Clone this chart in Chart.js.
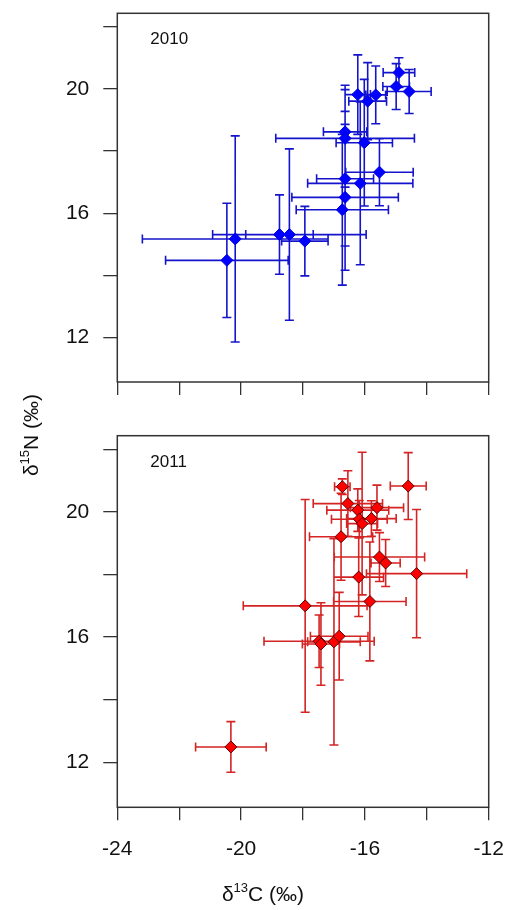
<!DOCTYPE html>
<html>
<head>
<meta charset="utf-8">
<script src="https://cdn.jsdelivr.net/npm/chart.js@4.4.1/dist/chart.umd.min.js"></script>
<style>
  body { margin: 0; background: #fff; width: 510px; height: 910px; position: relative; overflow: hidden;
         font-family: 'Liberation Sans', Arial, sans-serif; color: #111; }
  .panel { position: absolute; left: 0; width: 510px; }
  #topPanel { top: 0; height: 400px; }
  #bottomPanel { top: 420px; height: 490px; }
  .sup { font-size: 13px; position: relative; top: -9px; }
  #yTitle { position: absolute; left: -69px; top: 423px; width: 200px; height: 24px; line-height: 24px;
            font-size: 21px; text-align: center; transform: rotate(-90deg); }
  #xTitle { position: absolute; left: 163px; top: 882px; width: 200px; height: 24px; line-height: 24px;
            font-size: 21px; text-align: center; }
</style>
</head>
<body>
<div class="panel" id="topPanel"><canvas id="chart2010"></canvas></div>
<div class="panel" id="bottomPanel"><canvas id="chart2011"></canvas></div>
<div id="yTitle">δ<span class="sup">15</span>N (‰)</div>
<div id="xTitle">δ<span class="sup">13</span>C (‰)</div>
<script>
// axis ticks
const xTicks = [-24, -22, -20, -18, -16, -14, -12];
const xLabels = [-24, -20, -16, -12];
const yTicks = [12, 14, 16, 18, 20, 22];
const yLabels = [12, 16, 20];

// 2010 - d13C, d15N and their error bars
const c2010 = [-14.90, -14.99, -14.57, -16.23, -15.65, -15.91, -16.64, -16.64, -16.02, -15.53,
               -16.64, -16.15, -16.64, -16.73, -18.76, -18.44, -17.94, -20.19, -20.46];
const c2010Err = [0.51, 0.43, 0.71, 0.41, 0.32, 0.61, 0.70, 2.24, 0.91, 1.09,
                  0.92, 1.70, 1.72, 1.49, 1.09, 2.48, 0.75, 3.00, 1.98];
const n2010 = [20.53, 20.08, 19.92, 19.82, 19.81, 19.61, 18.62, 18.41, 18.27, 17.32,
               17.11, 16.96, 16.51, 16.11, 15.31, 15.31, 15.10, 15.17, 14.48];
const n2010Err = [0.48, 0.74, 0.71, 1.28, 0.93, 1.24, 1.50, 1.57, 2.04, 1.08,
                  2.17, 2.62, 2.35, 2.43, 1.28, 2.76, 1.12, 3.32, 1.84];

// 2011
const c2011 = [-16.73, -14.60, -16.55, -16.23, -15.61, -16.18, -16.09, -15.79, -16.77, -15.53,
               -15.33, -14.33, -16.20, -15.84, -17.93, -17.48, -17.42, -17.00, -16.83, -20.33];
const c2011Err = [0.25, 0.58, 1.12, 1.00, 0.86, 0.90, 0.50, 0.80, 1.02, 1.46,
                  0.47, 1.62, 0.80, 1.17, 2.00, 1.78, 0.60, 0.85, 0.93, 1.14];
const n2011 = [20.81, 20.83, 20.27, 20.06, 20.14, 19.77, 19.63, 19.79, 19.21, 18.56,
               18.37, 18.03, 17.92, 17.14, 17.00, 15.87, 15.78, 15.85, 16.03, 12.49];
const n2011Err = [0.25, 1.07, 1.05, 0.68, 0.72, 0.60, 2.28, 0.57, 1.39, 0.78,
                  0.75, 2.05, 1.26, 1.90, 3.40, 0.84, 1.32, 3.30, 1.40, 0.81];

const axisColor = '#333';

// error bars under the points, box and year label on top
const errorBars = {
    id: 'errorBars',
    beforeDatasetsDraw(chart) {
        const ctx = chart.ctx;
        const xs = chart.scales.x, ys = chart.scales.y;
        const cap = 4.5;
        chart.data.datasets.forEach(ds => {
            ctx.save();
            ctx.strokeStyle = ds.barColor;
            ctx.lineWidth = 1.6;
            ctx.beginPath();
            ds.data.forEach(p => {
                const px = xs.getPixelForValue(p.x);
                const py = ys.getPixelForValue(p.y);
                const x0 = xs.getPixelForValue(p.x - p.xErr);
                const x1 = xs.getPixelForValue(p.x + p.xErr);
                const y0 = ys.getPixelForValue(p.y - p.yErr);
                const y1 = ys.getPixelForValue(p.y + p.yErr);
                ctx.moveTo(x0, py); ctx.lineTo(x1, py);
                ctx.moveTo(x0, py - cap); ctx.lineTo(x0, py + cap);
                ctx.moveTo(x1, py - cap); ctx.lineTo(x1, py + cap);
                ctx.moveTo(px, y0); ctx.lineTo(px, y1);
                ctx.moveTo(px - cap, y0); ctx.lineTo(px + cap, y0);
                ctx.moveTo(px - cap, y1); ctx.lineTo(px + cap, y1);
            });
            ctx.stroke();
            ctx.restore();
        });
    },
    afterDraw(chart) {
        const ctx = chart.ctx;
        const a = chart.chartArea;
        ctx.save();
        ctx.strokeStyle = axisColor;
        ctx.lineWidth = 1.5;
        ctx.strokeRect(a.left, a.top, a.right - a.left, a.bottom - a.top);
        ctx.fillStyle = '#111';
        ctx.font = '17px "Liberation Sans", Arial, sans-serif';
        ctx.textBaseline = 'alphabetic';
        ctx.fillText(chart.data.datasets[0].label, a.left + 33, a.top + 31);
        ctx.restore();
    }
};

function makePanel(id, xs, xe, ys, ye, year, fill, edge, bars, showLabels, xAxisHeight, padTop) {
    const points = xs.map((v, i) => ({ x: v, y: ys[i], xErr: xe[i], yErr: ye[i] }));
    return new Chart(document.getElementById(id), {
        type: 'scatter',
        data: {
            datasets: [{
                label: year,
                data: points,
                pointStyle: 'rectRot',
                pointRadius: 6,
                pointHoverRadius: 6,
                backgroundColor: fill,
                borderColor: edge,
                borderWidth: 1,
                barColor: bars
            }]
        },
        options: {
            responsive: true,
            maintainAspectRatio: false,
            animation: false,
            events: [],
            layout: { padding: { top: padTop, right: 21.3, left: 0, bottom: 0 } },
            plugins: { legend: { display: false }, tooltip: { enabled: false } },
            scales: {
                x: {
                    type: 'linear',
                    min: -24,
                    max: -12,
                    afterBuildTicks: axis => { axis.ticks = xTicks.map(v => ({ value: v })); },
                    afterFit: axis => {
                        axis.height = xAxisHeight;
                        axis.paddingLeft = 0;
                        axis.paddingRight = 0;
                    },
                    border: { display: false },
                    grid: { drawOnChartArea: false, drawTicks: true, tickLength: 13, color: axisColor, lineWidth: 1.3 },
                    ticks: {
                        display: showLabels,
                        padding: 16,
                        color: '#111',
                        maxRotation: 0,
                        autoSkip: false,
                        font: { family: '"Liberation Sans", Arial, sans-serif', size: 21 },
                        callback: v => xLabels.includes(v) ? String(v) : ''
                    }
                },
                y: {
                    type: 'linear',
                    min: 10.56,
                    max: 22.44,
                    afterBuildTicks: axis => { axis.ticks = yTicks.map(v => ({ value: v })); },
                    afterFit: axis => {
                        axis.width = 117.3;
                        axis.paddingTop = 0;
                        axis.paddingBottom = 0;
                    },
                    border: { display: false },
                    grid: { drawOnChartArea: false, drawTicks: true, tickLength: 14, color: axisColor, lineWidth: 1.3 },
                    ticks: {
                        padding: 14,
                        color: '#111',
                        autoSkip: false,
                        font: { family: '"Liberation Sans", Arial, sans-serif', size: 21 },
                        callback: v => yLabels.includes(v) ? String(v) : ''
                    }
                }
            }
        },
        plugins: [errorBars]
    });
}

makePanel('chart2010', c2010, c2010Err, n2010, n2010Err, '2010',
    '#0000ff', '#0000e0', '#1414cc', false, 18, 13.3);
makePanel('chart2011', c2011, c2011Err, n2011, n2011Err, '2011',
    '#ff0000', '#5a0000', '#d42424', true, 102.7, 15.7);
</script>
</body>
</html>
